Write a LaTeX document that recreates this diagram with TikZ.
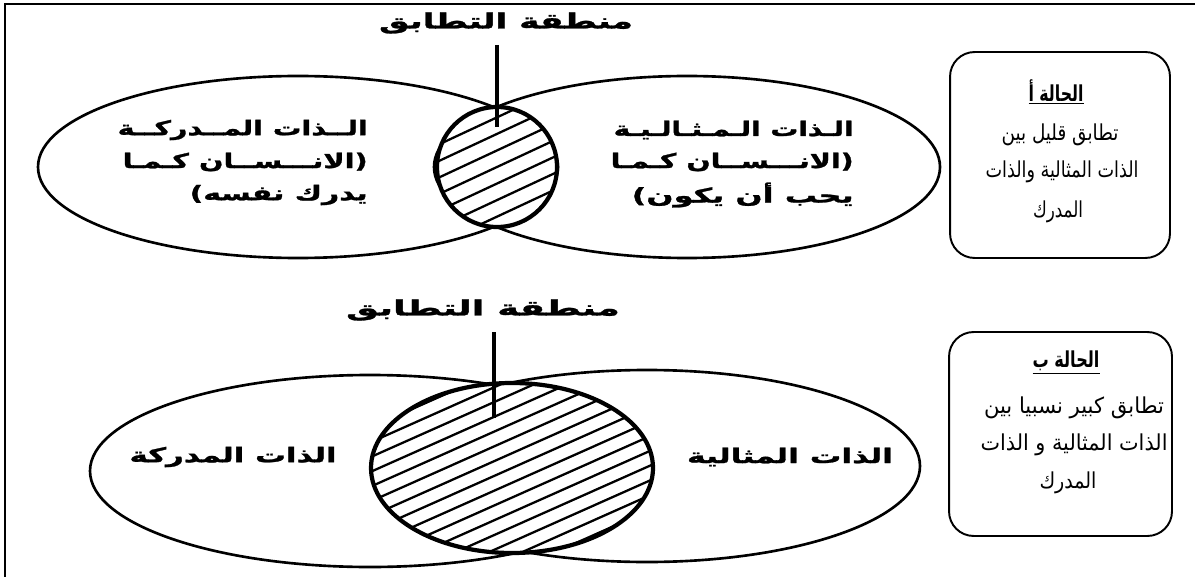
\documentclass[tikz,border=0pt]{standalone}
\usepackage{fontspec}
\usepackage{graphicx}
\newfontfamily\arabicfont[Script=Arabic]{DejaVu Sans}
\newfontfamily\arabicheavy[Script=Arabic,FakeBold=1.2]{DejaVu Sans Bold}
\TeXXeTstate=1
\newcommand{\fitw}[2]{\resizebox{#1}{\height}{#2}}
\begin{document}
\begin{tikzpicture}[x=0.02cm,y=-0.02cm,
 frame/.style={line width=1.4pt},
 ell/.style={line width=1.5pt},
 circ/.style={line width=2.4pt},
 hatch/.style={line width=1.3pt},
 stem/.style={line width=2.6pt},
 ttl/.style={font=\arabicheavy\fontsize{12}{13}\selectfont, inner sep=0pt},
 etxt/.style={font=\arabicheavy\fontsize{11.5}{12}\selectfont, inner sep=0pt},
 btxt/.style={font=\arabicfont\fontsize{12.5}{13}\selectfont, inner sep=0pt},
 bttl/.style={font=\arabicfont\bfseries\fontsize{12.5}{13}\selectfont, inner sep=0pt},
 box/.style={draw, line width=1.1pt, rounded corners=14pt}
]
\useasboundingbox (0,0) rectangle (1195,577);
\fill[white] (0,0) rectangle (1195,577);
\draw[frame] (5,577) -- (5,4) -- (1195,4);

% ---------- top diagram ----------
\draw[ell] (298,167) ellipse [x radius=260, y radius=91];
\draw[ell] (687,167) ellipse [x radius=253, y radius=91];
\begin{scope}
  \fill[white] (497,167) circle [radius=60];
  \clip (497,167) circle [radius=60];
  \foreach \i in {-6,...,6}
    \draw[hatch] ({497+\i*15*sin(25)-110*cos(25)},{167+\i*15*cos(25)+110*sin(25)})
              -- ({497+\i*15*sin(25)+110*cos(25)},{167+\i*15*cos(25)-110*sin(25)});
\end{scope}
\draw[circ] (497,167) circle [radius=60];

\node[ttl] (t1) at (506,23) {\fitw{5.08cm}{\beginR منطقة التطابق\endR}};
\coordinate (s1) at (497,45);
\coordinate (p1) at (497,127);
\draw[stem] (s1) -- (p1);

\node[etxt, anchor=east] (l11) at (368,130) {\fitw{5cm}{\beginR الــذات المــدركــة\endR}};
\node[etxt, anchor=east] (l12) at (368,162) {\fitw{4.9cm}{\beginR (الانـــســان كـمـا\endR}};
\node[etxt, anchor=east] (l13) at (368,195) {\fitw{3.56cm}{\beginR يدرك نفسه)\endR}};

\node[etxt, anchor=east] (r11) at (854,130) {\fitw{4.8cm}{\beginR الـذات الـمـثـالـيـة\endR}};
\node[etxt, anchor=east] (r12) at (854,162) {\fitw{4.86cm}{\beginR (الانـــســان كـمـا\endR}};
\node[etxt, anchor=east] (r13) at (854,195) {\fitw{4.44cm}{\beginR يحب أن يكون)\endR}};

% ---------- bottom diagram ----------
\draw[ell] (370,471) ellipse [x radius=280, y radius=96];
\draw[ell] (647,466) ellipse [x radius=273, y radius=96];
\begin{scope}
  \fill[white] (512,468) ellipse [x radius=141, y radius=85];
  \clip (512,468) ellipse [x radius=141, y radius=85];
  \foreach \i in {-10,...,10}
    \draw[hatch] ({512+\i*13.5*sin(24)-220*cos(24)},{468+\i*13.5*cos(24)+220*sin(24)})
              -- ({512+\i*13.5*sin(24)+220*cos(24)},{468+\i*13.5*cos(24)-220*sin(24)});
\end{scope}
\draw[circ] (512,468) ellipse [x radius=141, y radius=85];

\node[ttl] (t2) at (483,310) {\fitw{5.48cm}{\beginR منطقة التطابق\endR}};
\coordinate (s2) at (494,332);
\coordinate (p2) at (494,418);
\draw[stem] (s2) -- (p2);

\node[etxt] (l21) at (233,457) {\fitw{4.14cm}{\beginR الذات المدركة\endR}};
\node[etxt] (r21) at (790,457) {\fitw{4.12cm}{\beginR الذات المثالية\endR}};

% ---------- boxes ----------
\node[box, minimum width=4.4cm, minimum height=4.12cm] (boxA) at (1060,155) {};
\node[bttl] (a0) at (1056,92) {\underline{\fitw{1.1cm}{\beginR الحالة أ\endR}}};
\node[btxt] (a1) at (1060,135) {\fitw{2.34cm}{\beginR تطابق قليل بين\endR}};
\node[btxt] (a2) at (1062,172) {\fitw{3.06cm}{\beginR الذات المثالية والذات\endR}};
\node[btxt] (a3) at (1058,212) {\fitw{1.0cm}{\beginR المدرك\endR}};

\node[box, minimum width=4.46cm, minimum height=4.08cm] (boxB) at (1060.5,434) {};
\node[bttl] (b0) at (1066,363) {\underline{\fitw{1.34cm}{\beginR الحالة ب\endR}}};
\node[btxt] (b1) at (1074,408) {\fitw{3.6cm}{\beginR تطابق كبير نسبيا بين\endR}};
\node[btxt] (b2) at (1074,445) {\fitw{3.74cm}{\beginR الذات المثالية و الذات\endR}};
\node[btxt] (b3) at (1068,483) {\fitw{1.14cm}{\beginR المدرك\endR}};
\end{tikzpicture}
\end{document}
